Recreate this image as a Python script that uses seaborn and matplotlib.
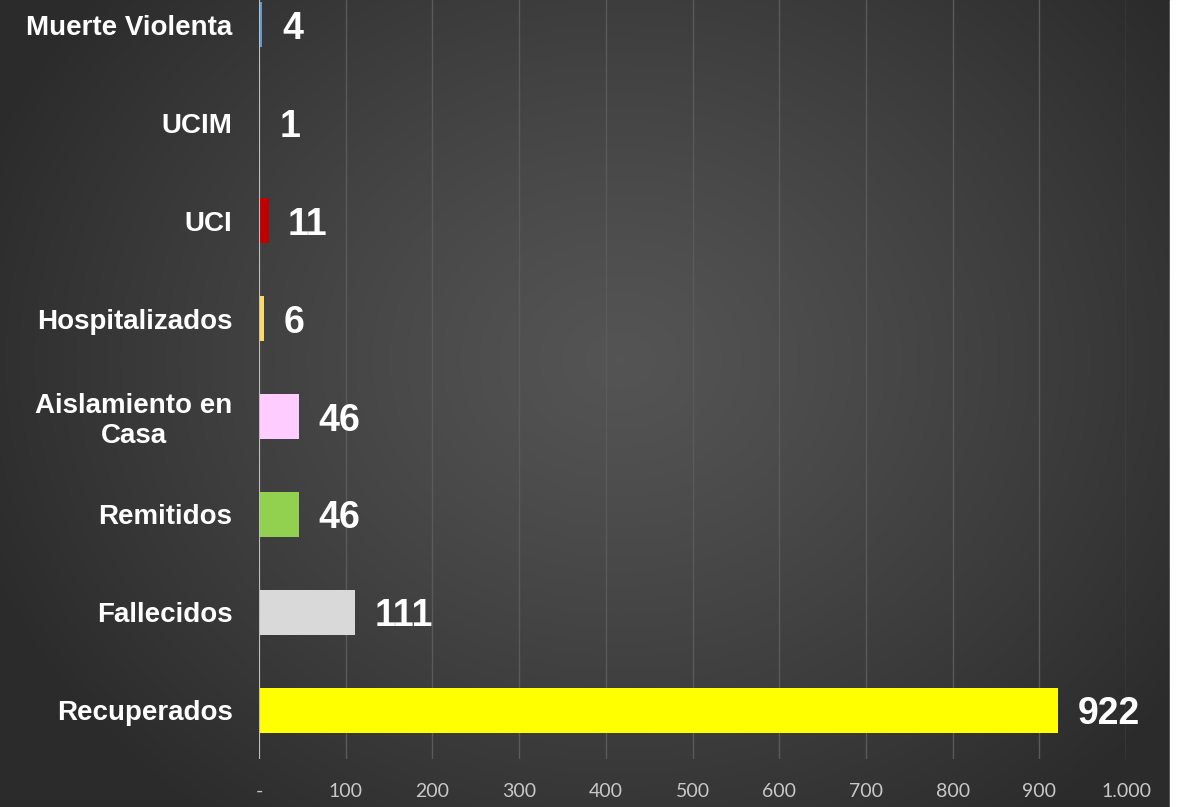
import numpy as np
import pandas as pd
import matplotlib
matplotlib.use("Agg")
import matplotlib.pyplot as plt
import seaborn as sns
from matplotlib.patches import Rectangle

categories = ["Muerte Violenta", "UCIM", "UCI", "Hospitalizados",
              "Aislamiento en\nCasa", "Remitidos", "Fallecidos", "Recuperados"]
values = [4, 1, 11, 6, 46, 46, 111, 922]
bar_colors = ["#5b9bd5", "#44546a", "#c00000", "#ffd966",
              "#ffccff", "#92d050", "#d9d9d9", "#ffff00"]
tick_values = [0, 100, 200, 300, 400, 500, 600, 700, 800, 900, 1000]
tick_labels = ["-", "100", "200", "300", "400", "500", "600", "700", "800", "900", "1.000"]

df = pd.DataFrame({"cat": categories, "val": values})

sns.set_theme(style="dark")
narrow = ["Liberation Sans Narrow", "Liberation Sans", "DejaVu Sans"]

W, H = 1178, 807
fig = plt.figure(figsize=(W / 100, H / 100), dpi=100)
fig.patch.set_facecolor("#2e2e2e")

# background radial gradient
bg = fig.add_axes([0, 0, 1, 1], zorder=0)
yy, xx = np.mgrid[0:H, 0:W]
r = np.sqrt(((xx - 620) / 680) ** 2 + ((yy - 360) / 580) ** 2)
r = np.clip(r, 0, 1)
lum = 0.33 - (0.33 - 0.17) * r ** 1.2
img = np.dstack([lum, lum, lum])
bg.imshow(img, extent=[0, W, H, 0], aspect="auto")
bg.set_xlim(0, W)
bg.set_ylim(H, 0)
bg.axis("off")
bg.add_patch(Rectangle((1170, 0), 8, H, color="white", zorder=5))

# main axes
x0, x1000 = 259, 1126
left = x0 / W
width = (x1000 - x0) / W
bottom = (H - 759) / H
top_px = -24
height = (759 - top_px) / H
ax = fig.add_axes([left, bottom, width, height], zorder=1)
ax.patch.set_alpha(0)

sns.barplot(data=df, y="cat", x="val", hue="cat", palette=bar_colors,
            orient="h", width=0.46, legend=False, ax=ax, saturation=1,
            edgecolor="none", linewidth=0)

ax.set_xlim(0, 1000)
ax.set_ylim(len(categories) - 0.5, -0.5)
ax.set_xlabel("")
ax.set_ylabel("")
ax.set_xticks(tick_values)
ax.set_xticklabels(tick_labels, fontsize=14, color="#c8c8c8", family=["Lato", "DejaVu Sans"])
ax.tick_params(axis="x", length=0, pad=17)
ax.tick_params(axis="y", length=0, pad=19)
for lbl in ax.get_yticklabels():
    lbl.set_family(narrow)
    lbl.set_fontsize(20)
    lbl.set_fontweight("bold")
    lbl.set_color("white")
    lbl.set_multialignment("center")

ax.grid(axis="x", color="#5a5a5a", linewidth=1.0)
ax.grid(axis="y", visible=False)
for s in ax.spines.values():
    s.set_visible(False)
ax.axvline(0, color="#bfbfbf", linewidth=1.5, zorder=3)

for i, v in enumerate(values):
    ax.annotate(str(v), xy=(v, i), xytext=(14, -3), textcoords="offset points",
                ha="left", va="center", color="white", fontsize=27,
                fontweight="bold", family=narrow)

fig.savefig("out.png", dpi=100, facecolor=fig.get_facecolor())
